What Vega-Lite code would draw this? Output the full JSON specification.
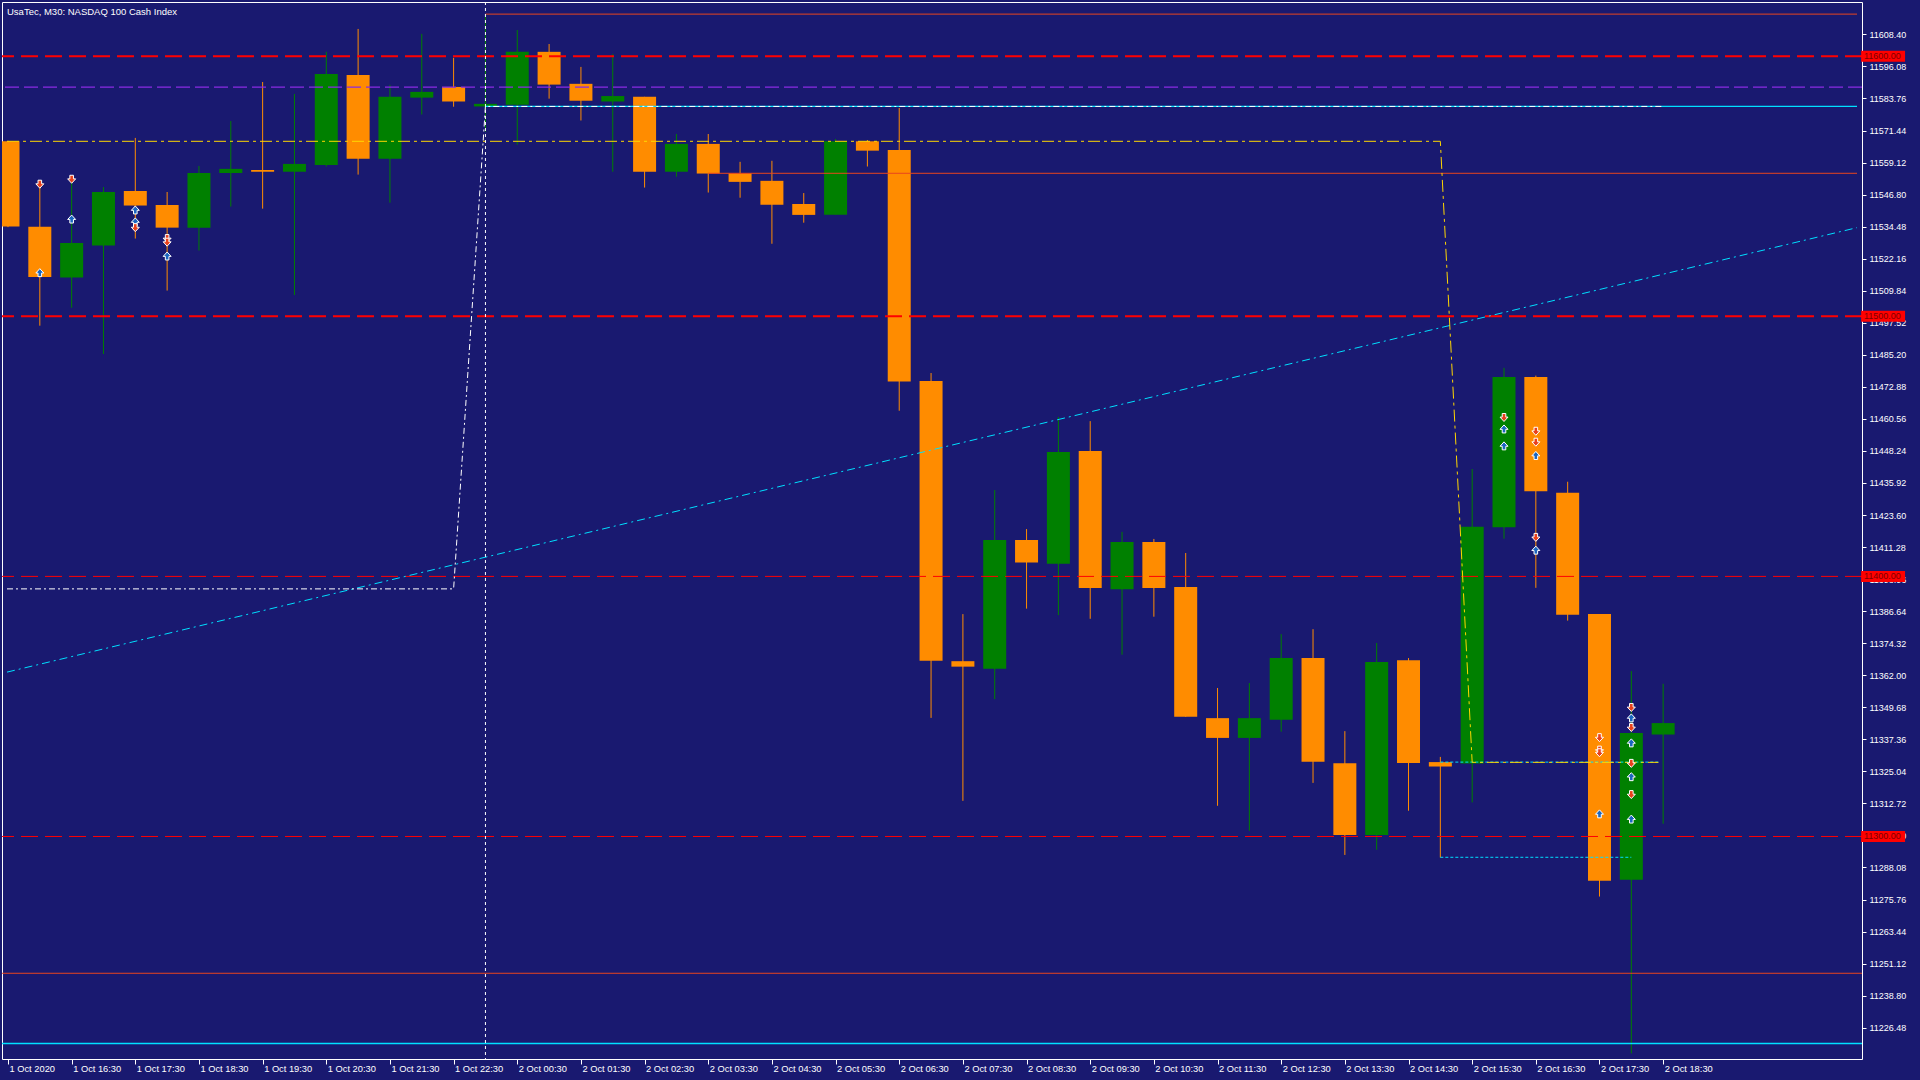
{
  "$schema": "https://vega.github.io/schema/vega-lite/v6.json",
  "width": 1860,
  "height": 1057,
  "autosize": {"type": "none"},
  "padding": {"left": 2, "top": 2, "right": 58, "bottom": 21},
  "background": "#191970",
  "title": {"text": "UsaTec, M30:  NASDAQ 100 Cash Index", "anchor": "start", "frame": "group", "offset": -11, "dy": 12, "baseline": "alphabetic", "dx": 5, "color": "white", "font": "Liberation Sans", "fontSize": 9.5, "fontWeight": "normal"},
  "config": {
    "view": {"stroke": "white", "strokeWidth": 1, "fill": "#191970"},
    "axis": {"grid": false, "domain": false, "title": null, "labelOverlap": false, "labelFlush": false, "labelBound": false,
      "ticks": true, "tickColor": "white", "tickWidth": 1, "labelColor": "white", "labelFont": "Liberation Sans"},
    "axisX": {"tickSize": 5, "labelFontSize": 9.3, "labelAlign": "left", "labelBaseline": "top", "labelPadding": 0, "labelOffset": 1},
    "axisY": {"tickSize": 4, "labelFontSize": 9, "labelAlign": "left", "labelBaseline": "middle", "labelPadding": 3}
  },
  "datasets": {
    "candles": [
      {"t":"1 Oct 15:30","i":1,"o":11567.3,"h":11567.5,"l":11534.3,"c":11534.5,"d":"down"},
      {"t":"1 Oct 16:00","i":2,"o":11534.4,"h":11552.1,"l":11496.4,"c":11515.1,"d":"down"},
      {"t":"1 Oct 16:30","i":3,"o":11514.9,"h":11553.7,"l":11503.3,"c":11528.2,"d":"up"},
      {"t":"1 Oct 17:00","i":4,"o":11527.2,"h":11549.7,"l":11485.5,"c":11547.8,"d":"up"},
      {"t":"1 Oct 17:30","i":5,"o":11548.2,"h":11568.6,"l":11529.9,"c":11542.6,"d":"down"},
      {"t":"1 Oct 18:00","i":6,"o":11542.8,"h":11547.8,"l":11509.9,"c":11534.1,"d":"down"},
      {"t":"1 Oct 18:30","i":7,"o":11534.1,"h":11557.8,"l":11525.3,"c":11555.1,"d":"up"},
      {"t":"1 Oct 19:00","i":8,"o":11555.1,"h":11575.1,"l":11542.2,"c":11556.7,"d":"up"},
      {"t":"1 Oct 19:30","i":9,"o":11556.3,"h":11590.1,"l":11541.4,"c":11555.6,"d":"down"},
      {"t":"1 Oct 20:00","i":10,"o":11555.6,"h":11585.5,"l":11508.2,"c":11558.6,"d":"up"},
      {"t":"1 Oct 20:30","i":11,"o":11558.2,"h":11601.7,"l":11557.6,"c":11593.2,"d":"up"},
      {"t":"1 Oct 21:00","i":12,"o":11592.8,"h":11610.5,"l":11554.5,"c":11560.6,"d":"down"},
      {"t":"1 Oct 21:30","i":13,"o":11560.6,"h":11589.0,"l":11543.7,"c":11584.4,"d":"up"},
      {"t":"1 Oct 22:00","i":14,"o":11584.1,"h":11608.6,"l":11577.6,"c":11586.3,"d":"up"},
      {"t":"1 Oct 22:30","i":15,"o":11588.2,"h":11599.4,"l":11580.6,"c":11582.6,"d":"down"},
      {"t":"2 Oct 00:00","i":16,"o":11580.7,"h":11616.1,"l":11571.0,"c":11581.7,"d":"up"},
      {"t":"2 Oct 00:30","i":17,"o":11581.4,"h":11610.1,"l":11566.0,"c":11601.7,"d":"up"},
      {"t":"2 Oct 01:00","i":18,"o":11601.7,"h":11604.7,"l":11583.7,"c":11589.1,"d":"down"},
      {"t":"2 Oct 01:30","i":19,"o":11589.4,"h":11595.9,"l":11575.3,"c":11582.9,"d":"down"},
      {"t":"2 Oct 02:00","i":20,"o":11582.6,"h":11600.9,"l":11555.6,"c":11584.7,"d":"up"},
      {"t":"2 Oct 02:30","i":21,"o":11584.4,"h":11584.4,"l":11549.5,"c":11555.6,"d":"down"},
      {"t":"2 Oct 03:00","i":22,"o":11555.6,"h":11570.1,"l":11553.7,"c":11566.3,"d":"up"},
      {"t":"2 Oct 03:30","i":23,"o":11566.3,"h":11570.1,"l":11547.6,"c":11554.9,"d":"down"},
      {"t":"2 Oct 04:00","i":24,"o":11555.0,"h":11559.4,"l":11545.6,"c":11551.7,"d":"down"},
      {"t":"2 Oct 04:30","i":25,"o":11552.1,"h":11559.8,"l":11527.9,"c":11542.9,"d":"down"},
      {"t":"2 Oct 05:00","i":26,"o":11543.2,"h":11547.4,"l":11536.0,"c":11539.0,"d":"down"},
      {"t":"2 Oct 05:30","i":27,"o":11539.1,"h":11568.2,"l":11539.1,"c":11567.3,"d":"up"},
      {"t":"2 Oct 06:00","i":28,"o":11567.3,"h":11567.8,"l":11557.6,"c":11563.7,"d":"down"},
      {"t":"2 Oct 06:30","i":29,"o":11564.0,"h":11580.1,"l":11463.7,"c":11474.9,"d":"down"},
      {"t":"2 Oct 07:00","i":30,"o":11475.1,"h":11478.2,"l":11345.6,"c":11367.6,"d":"down"},
      {"t":"2 Oct 07:30","i":31,"o":11367.4,"h":11385.5,"l":11313.7,"c":11365.3,"d":"down"},
      {"t":"2 Oct 08:00","i":32,"o":11364.5,"h":11433.2,"l":11352.8,"c":11414.0,"d":"up"},
      {"t":"2 Oct 08:30","i":33,"o":11414.0,"h":11418.2,"l":11387.6,"c":11405.3,"d":"down"},
      {"t":"2 Oct 09:00","i":34,"o":11404.9,"h":11461.3,"l":11385.1,"c":11447.8,"d":"up"},
      {"t":"2 Oct 09:30","i":35,"o":11448.2,"h":11459.7,"l":11383.7,"c":11395.5,"d":"down"},
      {"t":"2 Oct 10:00","i":36,"o":11395.1,"h":11417.1,"l":11369.9,"c":11413.2,"d":"up"},
      {"t":"2 Oct 10:30","i":37,"o":11413.2,"h":11414.4,"l":11384.5,"c":11395.5,"d":"down"},
      {"t":"2 Oct 11:00","i":38,"o":11395.9,"h":11409.0,"l":11346.0,"c":11346.0,"d":"down"},
      {"t":"2 Oct 11:30","i":39,"o":11345.5,"h":11357.1,"l":11311.8,"c":11337.9,"d":"down"},
      {"t":"2 Oct 12:00","i":40,"o":11337.9,"h":11359.0,"l":11302.2,"c":11345.5,"d":"up"},
      {"t":"2 Oct 12:30","i":41,"o":11344.9,"h":11377.8,"l":11340.3,"c":11368.6,"d":"up"},
      {"t":"2 Oct 13:00","i":42,"o":11368.6,"h":11379.7,"l":11320.6,"c":11328.7,"d":"down"},
      {"t":"2 Oct 13:30","i":43,"o":11328.2,"h":11340.5,"l":11292.9,"c":11300.6,"d":"down"},
      {"t":"2 Oct 14:00","i":44,"o":11300.6,"h":11374.4,"l":11294.9,"c":11367.1,"d":"up"},
      {"t":"2 Oct 14:30","i":45,"o":11367.8,"h":11368.6,"l":11309.9,"c":11328.3,"d":"down"},
      {"t":"2 Oct 15:00","i":46,"o":11328.6,"h":11330.6,"l":11291.9,"c":11326.9,"d":"down"},
      {"t":"2 Oct 15:30","i":47,"o":11328.1,"h":11441.3,"l":11313.1,"c":11419.1,"d":"up"},
      {"t":"2 Oct 16:00","i":48,"o":11418.9,"h":11480.2,"l":11414.5,"c":11476.7,"d":"up"},
      {"t":"2 Oct 16:30","i":49,"o":11476.7,"h":11477.2,"l":11395.6,"c":11432.7,"d":"down"},
      {"t":"2 Oct 17:00","i":50,"o":11432.2,"h":11436.4,"l":11383.0,"c":11385.3,"d":"down"},
      {"t":"2 Oct 17:30","i":51,"o":11385.5,"h":11385.5,"l":11276.9,"c":11283.0,"d":"down"},
      {"t":"2 Oct 18:00","i":52,"o":11283.4,"h":11363.6,"l":11216.6,"c":11339.8,"d":"up"},
      {"t":"2 Oct 18:30","i":53,"o":11339.2,"h":11358.7,"l":11304.9,"c":11343.6,"d":"up"}
    ],
    "arrows": [
      {"i":2,"p":11550.8,"m":"sell"},{"i":2,"p":11516.8,"m":"buy"},
      {"i":3,"p":11552.7,"m":"sell"},{"i":3,"p":11537.4,"m":"buy"},
      {"i":5,"p":11540.9,"m":"buy"},{"i":5,"p":11536.3,"m":"buy"},{"i":5,"p":11534.1,"m":"sell"},
      {"i":6,"p":11529.9,"m":"sell"},{"i":6,"p":11528.5,"m":"sell"},{"i":6,"p":11523.2,"m":"buy"},
      {"i":48,"p":11461.1,"m":"sell"},{"i":48,"p":11456.7,"m":"buy"},{"i":48,"p":11450.2,"m":"buy"},
      {"i":49,"p":11455.8,"m":"sell"},{"i":49,"p":11451.6,"m":"sell"},{"i":49,"p":11446.5,"m":"buy"},{"i":49,"p":11415.0,"m":"sell"},{"i":49,"p":11410.1,"m":"buy"},
      {"i":51,"p":11338.0,"m":"sell"},{"i":51,"p":11333.2,"m":"sell"},{"i":51,"p":11332.2,"m":"sell"},{"i":51,"p":11308.7,"m":"buy"},
      {"i":52,"p":11349.6,"m":"sell"},{"i":52,"p":11345.6,"m":"buy"},{"i":52,"p":11341.9,"m":"sell"},{"i":52,"p":11336.0,"m":"buy"},{"i":52,"p":11328.1,"m":"sell"},{"i":52,"p":11323.0,"m":"buy"},{"i":52,"p":11316.1,"m":"sell"},{"i":52,"p":11306.7,"m":"buy"}
    ],
    "hlines": [
      {"p":11600,"k":"redthick"},{"p":11500,"k":"redthick"},
      {"p":11400,"k":"red"},{"p":11300,"k":"red"},
      {"p":11588.1,"k":"purple"},
      {"p":11247.4,"k":"orangered"},
      {"p":11220.4,"k":"cyan"}
    ],
    "segs": [
      {"a":16,"b":59.09,"p":11616.2,"k":"orangered"},
      {"a":23,"b":59.09,"p":11555.0,"k":"orangered"},
      {"a":16,"b":59.09,"p":11580.7,"k":"cyan"},
      {"a":46,"b":52.9,"p":11328.6,"k":"cyandash"},
      {"a":46,"b":52.0,"p":11292.0,"k":"cyandash"}
    ],
    "paths": [
      {"line":"yellow","i":0.969,"p":11567.3},{"line":"yellow","i":46,"p":11567.3},{"line":"yellow","i":47,"p":11328.5},{"line":"yellow","i":52.85,"p":11328.5},
      {"line":"white","i":0.969,"p":11395.2},{"line":"white","i":15,"p":11395.2},{"line":"white","i":16,"p":11580.7},{"line":"white","i":53,"p":11580.7},
      {"line":"trend","i":0.969,"p":11363.2},{"line":"trend","i":59.09,"p":11534.1}
    ],
    "levels": [
      {"p":11600,"label":"11600.00"},{"p":11500,"label":"11500.00"},{"p":11400,"label":"11400.00"},{"p":11300,"label":"11300.00"}
    ],
    "sep": [{"i":16}]
  },
  "layer": [
    {
      "data": {"name": "candles"},
      "mark": {"type": "rule", "strokeWidth": 1},
      "encoding": {
        "x": {"field":"i","type":"quantitative","scale":{"domain":[0.969,59.09],"nice":false,"zero":false},
          "axis": {"orient":"bottom","values":[1,3,5,7,9,11,13,15,17,19,21,23,25,27,29,31,33,35,37,39,41,43,45,47,49,51,53],
            "tickCount": 100,
            "labelExpr": "datum.value == 1 ? '1 Oct 2020' : datum.value < 16 ? '1 Oct ' + (16 + (datum.value - 3) / 2) + ':30' : '2 Oct ' + ((datum.value - 17) / 2 < 10 ? '0' : '') + ((datum.value - 17) / 2) + ':30'",
            "labelOverlap": false}},
        "y": {"field":"l","type":"quantitative","scale":{"domain":[11214.44,11620.86],"nice":false,"zero":false},
          "axis": {"orient":"right","values":[11226.48,11238.80,11251.12,11263.44,11275.76,11288.08,11300.40,11312.72,11325.04,11337.36,11349.68,11362.00,11374.32,11386.64,11398.96,11411.28,11423.60,11435.92,11448.24,11460.56,11472.88,11485.20,11497.52,11509.84,11522.16,11534.48,11546.80,11559.12,11571.44,11583.76,11596.08,11608.40],
            "tickCount": 100,
            "format":".2f","labelOverlap": false}},
        "y2": {"field":"h"},
        "color": {"field":"d","type":"nominal","scale":{"domain":["up","down"],"range":["#008000","#ff8c00"]},"legend":null}
      }
    },
    {
      "data": {"name": "candles"},
      "mark": {"type": "bar", "orient": "vertical", "width": 23, "clip": true},
      "encoding": {
        "x": {"field":"i","type":"quantitative","scale":{"domain":[0.969,59.09],"nice":false,"zero":false}},
        "y": {"field":"o","type":"quantitative","scale":{"domain":[11214.44,11620.86],"nice":false,"zero":false}},
        "y2": {"field":"c"},
        "color": {"field":"d","type":"nominal","scale":{"domain":["up","down"],"range":["#008000","#ff8c00"]},"legend":null}
      }
    },
    {
      "data": {"name": "hlines"},
      "transform": [{"filter": "datum.k == 'redthick'"}],
      "mark": {"type": "rule", "color": "#ff0000", "strokeWidth": 2, "strokeDash": [17, 7]},
      "encoding": {"y": {"field":"p","type":"quantitative","scale":{"domain":[11214.44,11620.86],"nice":false,"zero":false}}}
    },
    {
      "data": {"name": "hlines"},
      "transform": [{"filter": "datum.k == 'red'"}],
      "mark": {"type": "rule", "color": "#ff0000", "strokeWidth": 1, "strokeDash": [17, 7]},
      "encoding": {"y": {"field":"p","type":"quantitative","scale":{"domain":[11214.44,11620.86],"nice":false,"zero":false}}}
    },
    {
      "data": {"name": "hlines"},
      "transform": [{"filter": "datum.k == 'purple'"}],
      "mark": {"type": "rule", "color": "#8a2be2", "strokeWidth": 1.3, "strokeDash": [14, 5]},
      "encoding": {"y": {"field":"p","type":"quantitative","scale":{"domain":[11214.44,11620.86],"nice":false,"zero":false}}}
    },
    {
      "data": {"name": "hlines"},
      "transform": [{"filter": "datum.k == 'orangered'"}],
      "mark": {"type": "rule", "color": "#e8461e", "strokeWidth": 1},
      "encoding": {"y": {"field":"p","type":"quantitative","scale":{"domain":[11214.44,11620.86],"nice":false,"zero":false}}}
    },
    {
      "data": {"name": "hlines"},
      "transform": [{"filter": "datum.k == 'cyan'"}],
      "mark": {"type": "rule", "color": "#00e0ff", "strokeWidth": 1.3},
      "encoding": {"y": {"field":"p","type":"quantitative","scale":{"domain":[11214.44,11620.86],"nice":false,"zero":false}}}
    },
    {
      "data": {"name": "segs"},
      "transform": [{"filter": "datum.k == 'orangered'"}],
      "mark": {"type": "rule", "color": "#e8461e", "strokeWidth": 1},
      "encoding": {
        "x": {"field":"a","type":"quantitative","scale":{"domain":[0.969,59.09],"nice":false,"zero":false}},
        "x2": {"field":"b"},
        "y": {"field":"p","type":"quantitative","scale":{"domain":[11214.44,11620.86],"nice":false,"zero":false}}
      }
    },
    {
      "data": {"name": "segs"},
      "transform": [{"filter": "datum.k == 'cyan'"}],
      "mark": {"type": "rule", "color": "#00e0ff", "strokeWidth": 1.3},
      "encoding": {
        "x": {"field":"a","type":"quantitative","scale":{"domain":[0.969,59.09],"nice":false,"zero":false}},
        "x2": {"field":"b"},
        "y": {"field":"p","type":"quantitative","scale":{"domain":[11214.44,11620.86],"nice":false,"zero":false}}
      }
    },
    {
      "data": {"name": "segs"},
      "transform": [{"filter": "datum.k == 'cyandash'"}],
      "mark": {"type": "rule", "color": "#00e0ff", "strokeWidth": 1, "strokeDash": [3, 2]},
      "encoding": {
        "x": {"field":"a","type":"quantitative","scale":{"domain":[0.969,59.09],"nice":false,"zero":false}},
        "x2": {"field":"b"},
        "y": {"field":"p","type":"quantitative","scale":{"domain":[11214.44,11620.86],"nice":false,"zero":false}}
      }
    },
    {
      "data": {"name": "paths"},
      "transform": [{"filter": "datum.line == 'trend'"}],
      "mark": {"type": "line", "color": "#00e0ff", "strokeWidth": 1, "strokeDash": [8, 4, 2, 4], "clip": true},
      "encoding": {
        "x": {"field":"i","type":"quantitative","scale":{"domain":[0.969,59.09],"nice":false,"zero":false}},
        "y": {"field":"p","type":"quantitative","scale":{"domain":[11214.44,11620.86],"nice":false,"zero":false}}
      }
    },
    {
      "data": {"name": "paths"},
      "transform": [{"filter": "datum.line == 'white'"}],
      "mark": {"type": "line", "color": "white", "strokeWidth": 1, "strokeDash": [6, 3, 2, 3]},
      "encoding": {
        "x": {"field":"i","type":"quantitative","scale":{"domain":[0.969,59.09],"nice":false,"zero":false}},
        "y": {"field":"p","type":"quantitative","scale":{"domain":[11214.44,11620.86],"nice":false,"zero":false}}
      }
    },
    {
      "data": {"name": "paths"},
      "transform": [{"filter": "datum.line == 'yellow'"}],
      "mark": {"type": "line", "color": "#ffd700", "strokeWidth": 1, "strokeDash": [12, 4, 3, 4]},
      "encoding": {
        "x": {"field":"i","type":"quantitative","scale":{"domain":[0.969,59.09],"nice":false,"zero":false}},
        "y": {"field":"p","type":"quantitative","scale":{"domain":[11214.44,11620.86],"nice":false,"zero":false}}
      }
    },
    {
      "data": {"name": "sep"},
      "mark": {"type": "rule", "color": "white", "strokeWidth": 1, "strokeDash": [3, 3]},
      "encoding": {
        "x": {"field":"i","type":"quantitative","scale":{"domain":[0.969,59.09],"nice":false,"zero":false}}
      }
    },
    {
      "data": {"name": "arrows"},
      "mark": {"type": "point", "filled": true, "size": 64, "stroke": "white", "strokeWidth": 1, "opacity": 1},
      "encoding": {
        "x": {"field":"i","type":"quantitative","scale":{"domain":[0.969,59.09],"nice":false,"zero":false}},
        "y": {"field":"p","type":"quantitative","scale":{"domain":[11214.44,11620.86],"nice":false,"zero":false}},
        "shape": {"field":"m","type":"nominal","scale":{"domain":["sell","buy"],"range":["M-0.45,-1H0.45V-0.1H1L0,1L-1,-0.1H-0.45Z","M-0.45,1H0.45V0.1H1L0,-1L-1,0.1H-0.45Z"]},"legend":null},
        "fill": {"field":"m","type":"nominal","scale":{"domain":["sell","buy"],"range":["#e8401c","#1a66c0"]},"legend":null}
      }
    },
    {
      "data": {"name": "levels"},
      "mark": {"type": "rect", "color": "#ff0000", "height": 11},
      "encoding": {
        "x": {"datum": 59.22, "type":"quantitative","scale":{"domain":[0.969,59.09],"nice":false,"zero":false}},
        "x2": {"datum": 60.6},
        "y": {"field":"p","type":"quantitative","scale":{"domain":[11214.44,11620.86],"nice":false,"zero":false}}
      }
    },
    {
      "data": {"name": "levels"},
      "mark": {"type": "text", "color": "#7a0000", "align": "left", "baseline": "middle", "font": "Liberation Sans", "fontSize": 9},
      "encoding": {
        "x": {"datum": 59.31, "type":"quantitative","scale":{"domain":[0.969,59.09],"nice":false,"zero":false}},
        "y": {"field":"p","type":"quantitative","scale":{"domain":[11214.44,11620.86],"nice":false,"zero":false}},
        "text": {"field":"label"}
      }
    }
  ]
}
